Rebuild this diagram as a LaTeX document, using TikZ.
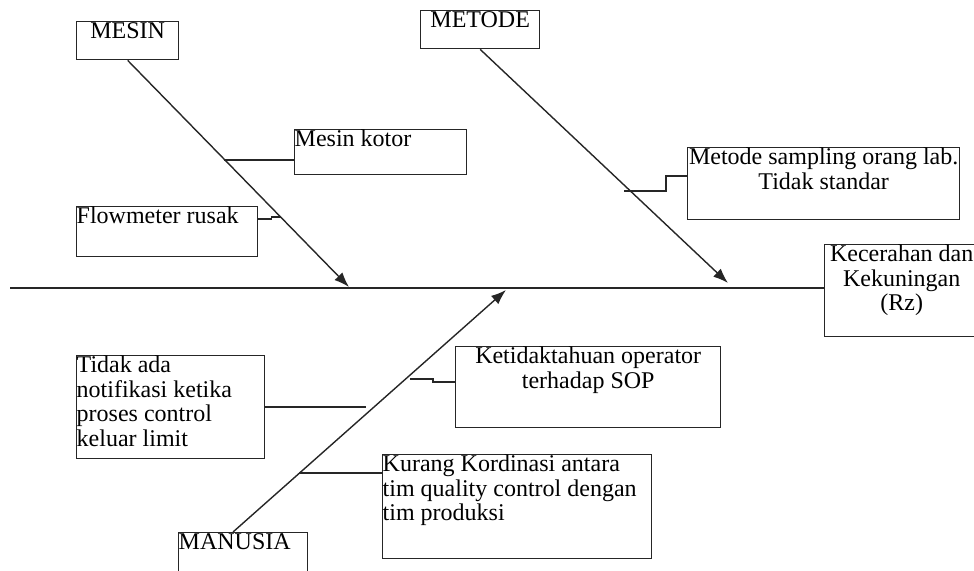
\documentclass[tikz,border=0pt]{standalone}
\usepackage{fontspec}
\setmainfont{Liberation Serif}
\usetikzlibrary{arrows.meta,calc}
\newcommand\bxtext[4]{\parbox[c][#2][t]{#1}{\fontsize{12}{12.2}\selectfont#3\rule{0pt}{8.6pt}#4}}
\tikzset{
  box/.style={draw=black!85, line width=0.7pt, inner sep=0pt, anchor=north west},
  ln/.style={draw=black!85, line width=0.7pt},
  bone/.style={ln, -{Latex[length=7.5pt,width=5.5pt]}}
}
\begin{document}
\begin{tikzpicture}[x=0.5pt,y=-0.5pt]
\useasboundingbox (0,0) rectangle (974,570);
% boxes
\node[box] (mesin) at (76,21) {\bxtext{51pt}{19pt}{\centering}{MESIN}};
\node[box] (metode) at (420,10) {\bxtext{59.5pt}{19pt}{\centering}{METODE}};
\node[box] (kotor) at (294,129) {\bxtext{86pt}{22.5pt}{\raggedright}{Mesin kotor}};
\node[box] (flow) at (76,206) {\bxtext{90.5pt}{25pt}{\raggedright}{Flowmeter rusak}};
\node[box] (samp) at (687,147) {\bxtext{136pt}{36pt}{\centering}{Metode sampling orang lab.\\Tidak standar}};
\node[box] (effect) at (824,244) {\bxtext{77pt}{46pt}{\centering}{Kecerahan dan\\Kekuningan\\(Rz)}};
\node[box] (tidak) at (76,355) {\bxtext{94pt}{51.5pt}{\raggedright}{Tidak ada\\notifikasi ketika\\proses control\\keluar limit}};
\node[box] (ketid) at (455,346) {\bxtext{132.5pt}{40.5pt}{\centering}{Ketidaktahuan operator\\terhadap SOP}};
\node[box] (kurang) at (382,454) {\bxtext{134.5pt}{52pt}{\raggedright}{Kurang Kordinasi antara\\tim quality control dengan\\tim produksi}};
\node[box] (manusia) at (178,532) {\bxtext{64.5pt}{30pt}{\raggedright}{MANUSIA}};
% coordinates
\coordinate (sp) at (10,288);
\coordinate (tipM) at (349,287);
\coordinate (tipT) at (728,283);
\coordinate (tipN) at (506,290);
\coordinate (startN) at (233,532);
\coordinate (k1) at (224,160);
\coordinate (f1) at (281,217);
\coordinate (s1) at (624,191);
\coordinate (t1) at (366,407);
\coordinate (kt1) at (410,379);
\coordinate (ku1) at (299,473);
% spine
\draw[ln] (sp) -- (sp -| effect.west);
% bones
\draw[bone] (mesin.south) -- (tipM);
\draw[bone] (metode.south) -- (tipT);
\draw[bone] (startN) -- (tipN);
% sub-cause connectors
\draw[ln] (kotor.west |- k1) -- (k1);
\draw[ln] ($(flow.north east)+(0,13)$) -- ++(13,0) -- ++(0,-2) -- (f1);
\draw[ln] ($(samp.north west)+(0,29)$) -- ++(-21,0) |- (s1);
\draw[ln] (tidak.east |- t1) -- (t1);
\draw[ln] ($(ketid.north west)+(0,36)$) -- ++(-22,0) |- (kt1);
\draw[ln] (kurang.west |- ku1) -- (ku1);
\end{tikzpicture}
\end{document}
